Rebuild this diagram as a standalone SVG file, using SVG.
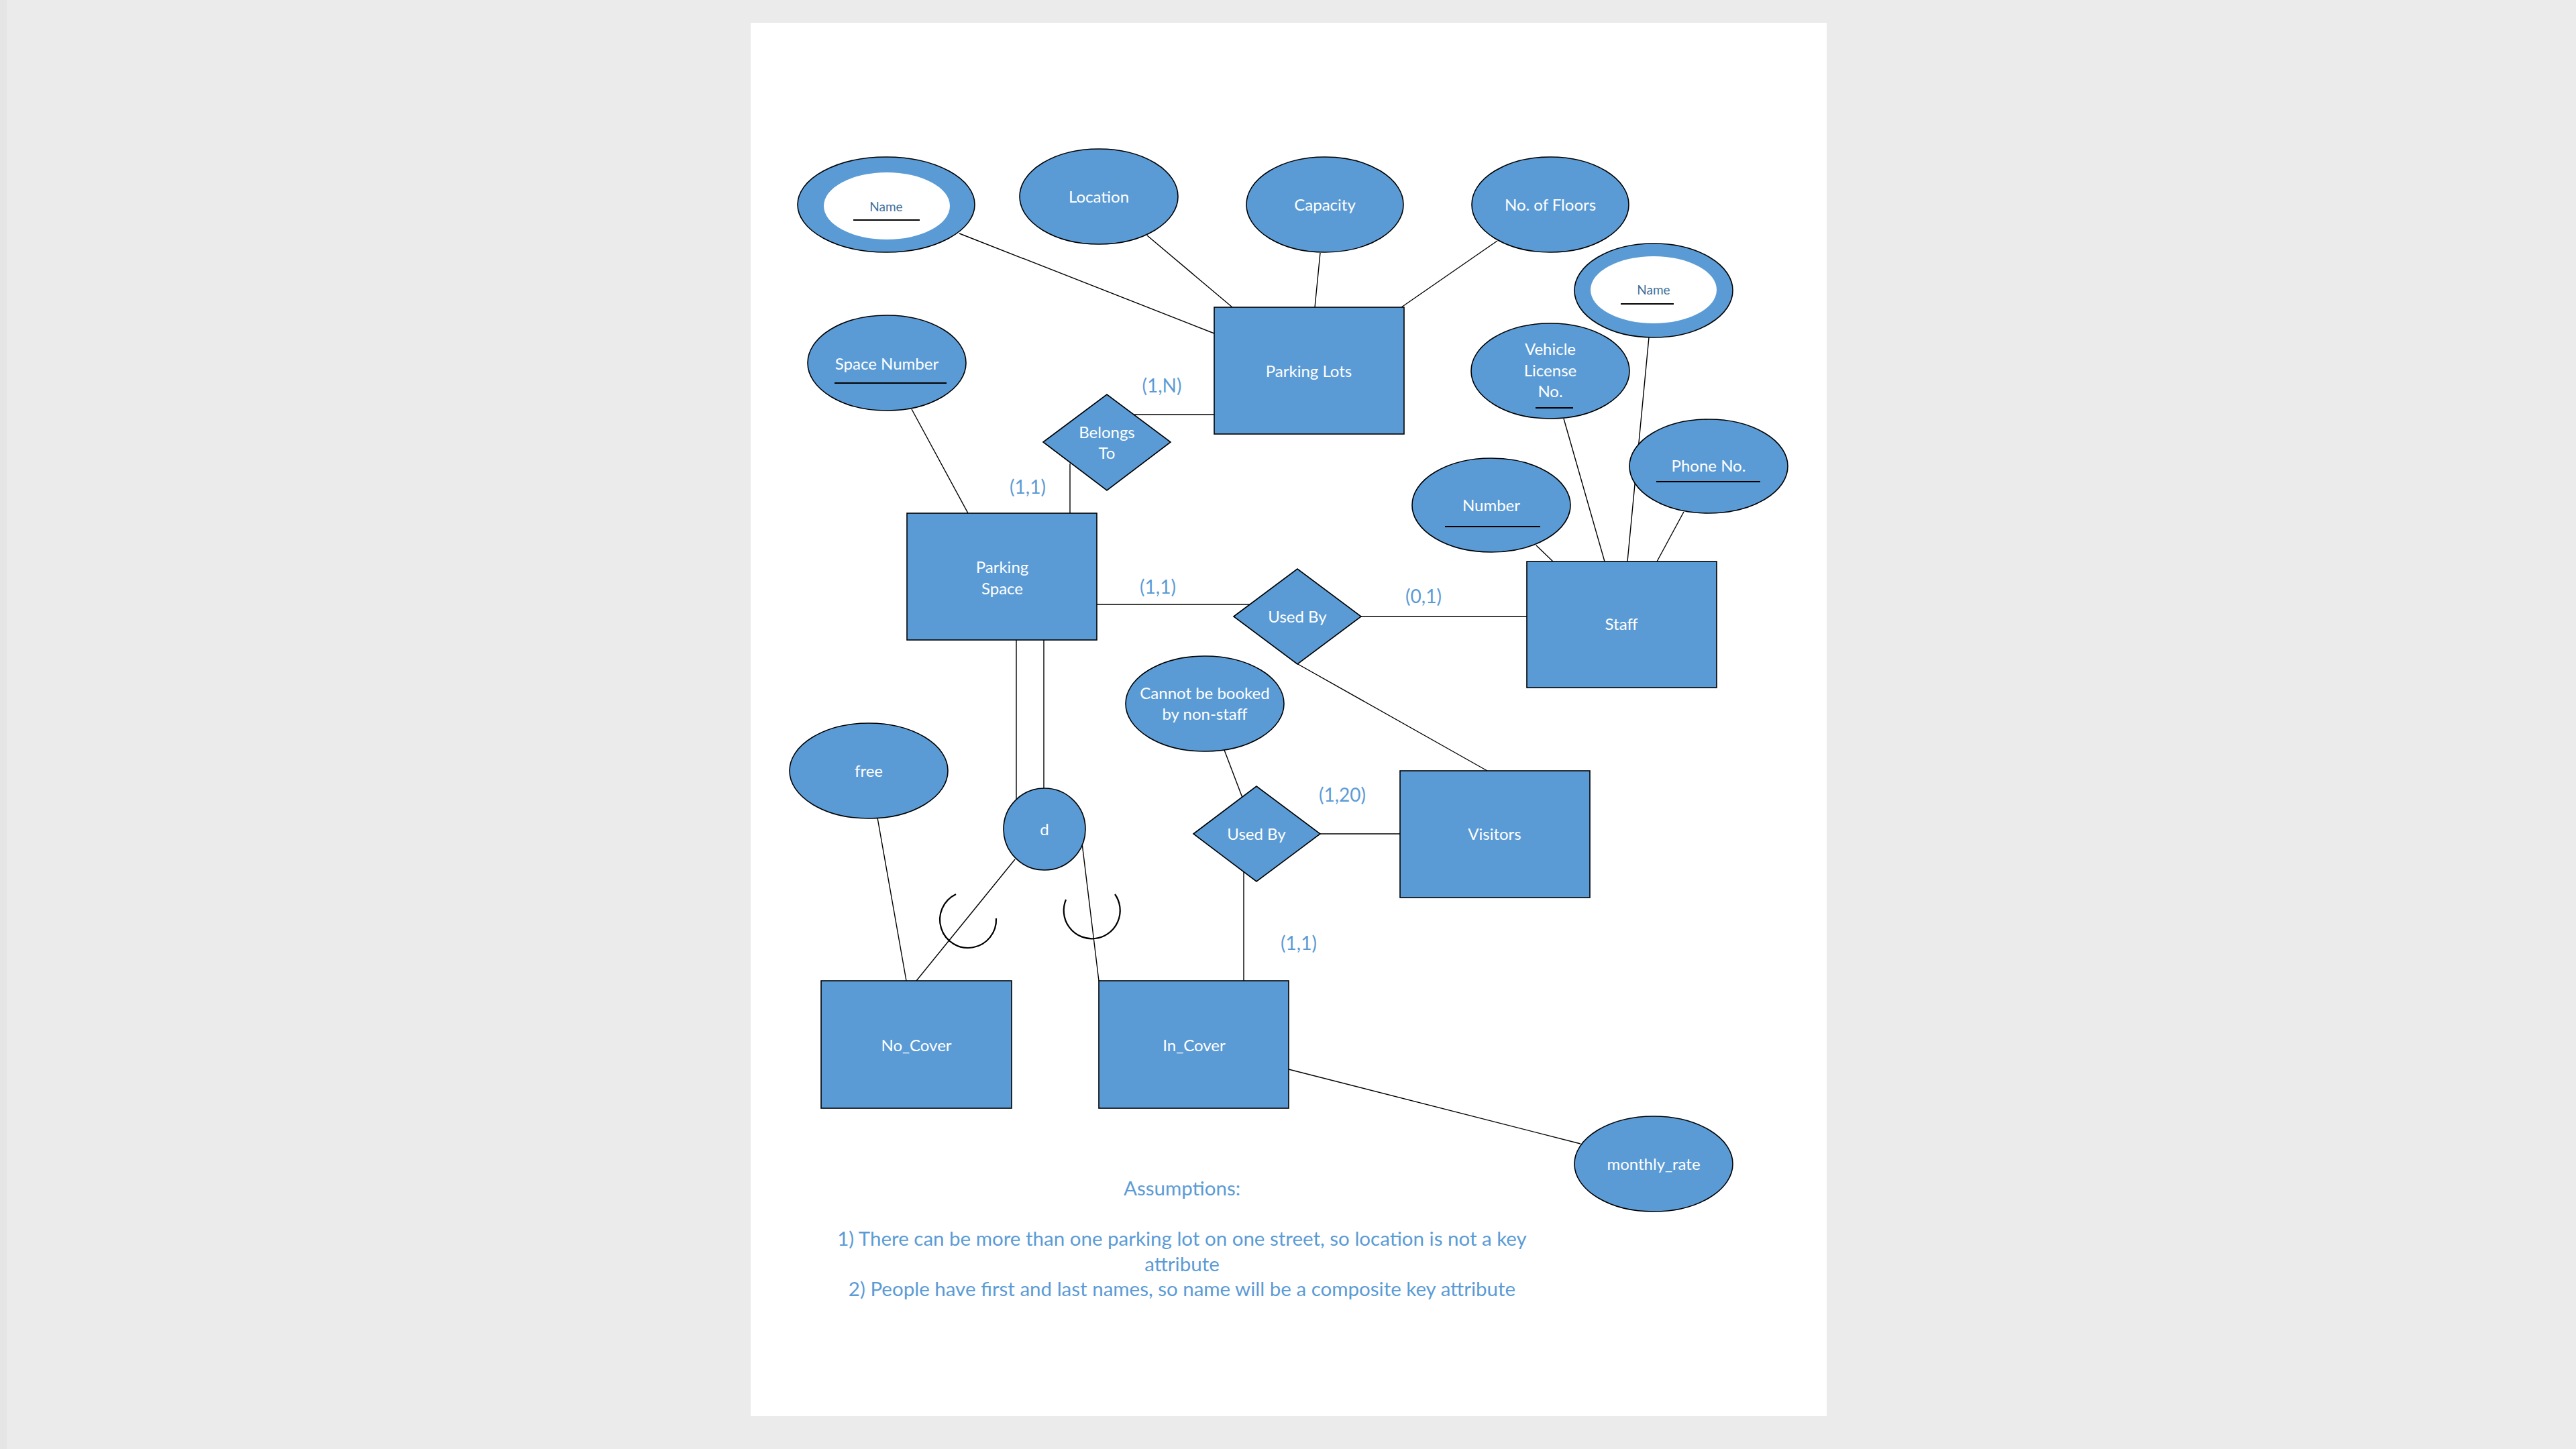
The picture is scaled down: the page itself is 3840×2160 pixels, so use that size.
<svg xmlns="http://www.w3.org/2000/svg" width="3840" height="2160" viewBox="0 0 3840 2160">
<style>
.ent{fill:#5b9bd5;stroke:#000;stroke-width:1.6}
.hole{fill:#fff;stroke:none}
.ln{stroke:#000;stroke-width:1.4;fill:none}
.arc{stroke:#000;stroke-width:2.2;fill:none}
.ul{stroke:#000;stroke-width:2}
.t{font-family:Lato,"Liberation Sans",sans-serif;font-size:24px;fill:#fff;text-anchor:middle}
.tn{font-family:Lato,"Liberation Sans",sans-serif;font-size:19px;fill:#41719c;text-anchor:middle}
.card{font-family:Lato,"Liberation Sans",sans-serif;font-size:28px;fill:#5b9bd5;text-anchor:middle}
.note{font-family:Lato,"Liberation Sans",sans-serif;font-size:29.5px;fill:#5b9bd5;text-anchor:middle}
</style>
<rect x="0" y="0" width="3840" height="2160" fill="#ebebeb"/>
<rect x="0" y="0" width="10" height="2160" fill="#e5e5e5"/>
<rect x="1119" y="34" width="1604" height="2077" fill="#ffffff"/>

<g id="connectors">
<line class="ln" x1="1430" y1="348" x2="1810" y2="497"/>
<line class="ln" x1="1710" y1="351" x2="1837" y2="458"/>
<line class="ln" x1="1968" y1="377" x2="1960" y2="458"/>
<line class="ln" x1="2232" y1="359" x2="2089" y2="458"/>
<line class="ln" x1="1691" y1="618" x2="1810" y2="618"/>
<line class="ln" x1="1595" y1="691" x2="1595" y2="765"/>
<line class="ln" x1="1359" y1="610" x2="1443" y2="765"/>
<line class="ln" x1="1635" y1="901" x2="1864" y2="901"/>
<line class="ln" x1="2028" y1="919" x2="2276" y2="919"/>
<line class="ln" x1="1933" y1="989" x2="2217" y2="1149"/>
<line class="ln" x1="2290" y1="813" x2="2315" y2="837"/>
<line class="ln" x1="2331" y1="624" x2="2392" y2="837"/>
<line class="ln" x1="2458" y1="503" x2="2426" y2="837"/>
<line class="ln" x1="2510" y1="763" x2="2470" y2="837"/>
<line class="ln" x1="1515" y1="954" x2="1515" y2="1198"/>
<line class="ln" x1="1556" y1="954" x2="1556" y2="1175"/>
<line class="ln" x1="1513" y1="1281" x2="1366" y2="1462"/>
<line class="ln" x1="1613" y1="1257" x2="1638" y2="1462"/>
<line class="ln" x1="1308" y1="1219" x2="1351" y2="1462"/>
<line class="ln" x1="1825" y1="1118" x2="1852" y2="1189"/>
<line class="ln" x1="1968" y1="1243" x2="2087" y2="1243"/>
<line class="ln" x1="1854" y1="1299" x2="1854" y2="1462"/>
<line class="ln" x1="1921" y1="1594" x2="2356" y2="1705"/>
<path class="arc" d="M1425,1333 A42,42 0 1 0 1485,1369"/>
<path class="arc" d="M1589,1341 A42,42 0 1 0 1662,1333"/>
</g>

<g id="lot-name">
<ellipse class="ent" cx="1321" cy="305" rx="132" ry="71"/>
<ellipse class="hole" cx="1322" cy="307" rx="94" ry="50"/>
<text class="tn" x="1321" y="315">Name</text>
<line class="ul" x1="1272" y1="328" x2="1371" y2="328"/>
</g>
<g id="location">
<ellipse class="ent" cx="1638" cy="293" rx="118" ry="71"/>
<text class="t" x="1638" y="302">Location</text>
</g>
<g id="capacity">
<ellipse class="ent" cx="1975" cy="305" rx="117" ry="71"/>
<text class="t" x="1975" y="314">Capacity</text>
</g>
<g id="floors">
<ellipse class="ent" cx="2311" cy="305" rx="117" ry="71"/>
<text class="t" x="2311" y="314">No. of Floors</text>
</g>
<g id="parking-lots">
<rect class="ent" x="1810" y="458" width="283" height="189"/>
<text class="t" x="1951" y="562">Parking Lots</text>
</g>
<g id="staff-name">
<ellipse class="ent" cx="2465" cy="433" rx="118" ry="70"/>
<ellipse class="hole" cx="2465" cy="432" rx="94" ry="50"/>
<text class="tn" x="2465" y="439">Name</text>
<line class="ul" x1="2416" y1="453" x2="2495" y2="453"/>
</g>
<g id="space-number">
<ellipse class="ent" cx="1322" cy="541" rx="118" ry="71"/>
<text class="t" x="1322" y="551">Space Number</text>
<line class="ul" x1="1244" y1="571" x2="1411" y2="571"/>
</g>
<g id="belongs-to">
<polygon class="ent" points="1555,659 1650,588 1745,659 1650,731"/>
<text class="t" x="1650" y="653">Belongs</text>
<text class="t" x="1650" y="684">To</text>
</g>
<g id="vehicle">
<ellipse class="ent" cx="2311" cy="553" rx="118" ry="71"/>
<text class="t" x="2311" y="529">Vehicle</text>
<text class="t" x="2311" y="561">License</text>
<text class="t" x="2311" y="592">No.</text>
<line class="ul" x1="2289" y1="608" x2="2345" y2="608"/>
</g>
<g id="phone">
<ellipse class="ent" cx="2547" cy="695" rx="118" ry="70"/>
<text class="t" x="2547" y="703">Phone No.</text>
<line class="ul" x1="2469" y1="718" x2="2624" y2="718"/>
</g>
<g id="number">
<ellipse class="ent" cx="2223" cy="753" rx="118" ry="70"/>
<text class="t" x="2223" y="762">Number</text>
<line class="ul" x1="2154" y1="785" x2="2296" y2="785"/>
</g>
<g id="parking-space">
<rect class="ent" x="1352" y="765" width="283" height="189"/>
<text class="t" x="1494" y="854">Parking</text>
<text class="t" x="1494" y="886">Space</text>
</g>
<g id="used-by-1">
<polygon class="ent" points="1839,919 1934,848 2029,919 1934,990"/>
<text class="t" x="1934" y="928">Used By</text>
</g>
<g id="staff">
<rect class="ent" x="2276" y="837" width="283" height="188"/>
<text class="t" x="2417" y="939">Staff</text>
</g>
<g id="cannot-be-booked">
<ellipse class="ent" cx="1796" cy="1049" rx="118" ry="71"/>
<text class="t" x="1796" y="1042">Cannot be booked</text>
<text class="t" x="1796" y="1073">by non-staff</text>
</g>
<g id="free">
<ellipse class="ent" cx="1295" cy="1149" rx="118" ry="71"/>
<text class="t" x="1295" y="1158">free</text>
</g>
<g id="disjoint">
<circle class="ent" cx="1557" cy="1236" r="61"/>
<text class="t" x="1557" y="1245">d</text>
</g>
<g id="used-by-2">
<polygon class="ent" points="1779,1243 1873,1172 1968,1243 1873,1314"/>
<text class="t" x="1873" y="1252">Used By</text>
</g>
<g id="visitors">
<rect class="ent" x="2087" y="1149" width="283" height="189"/>
<text class="t" x="2228" y="1252">Visitors</text>
</g>
<g id="no-cover">
<rect class="ent" x="1224" y="1462" width="284" height="190"/>
<text class="t" x="1366" y="1567">No_Cover</text>
</g>
<g id="in-cover">
<rect class="ent" x="1638" y="1462" width="283" height="190"/>
<text class="t" x="1780" y="1567">In_Cover</text>
</g>
<g id="monthly-rate">
<ellipse class="ent" cx="2465" cy="1735" rx="118" ry="71"/>
<text class="t" x="2465" y="1744">monthly_rate</text>
</g>

<g id="cardinalities">
<text class="card" x="1732" y="585">(1,N)</text>
<text class="card" x="1532" y="736">(1,1)</text>
<text class="card" x="1726" y="885">(1,1)</text>
<text class="card" x="2122" y="899">(0,1)</text>
<text class="card" x="2001" y="1195">(1,20)</text>
<text class="card" x="1936" y="1416">(1,1)</text>
</g>

<g id="assumptions">
<text class="note" x="1762" y="1782">Assumptions:</text>
<text class="note" x="1762" y="1857">1) There can be more than one parking lot on one street, so location is not a key</text>
<text class="note" x="1762" y="1895">attribute</text>
<text class="note" x="1762" y="1932">2) People have first and last names, so name will be a composite key attribute</text>
</g>
</svg>
